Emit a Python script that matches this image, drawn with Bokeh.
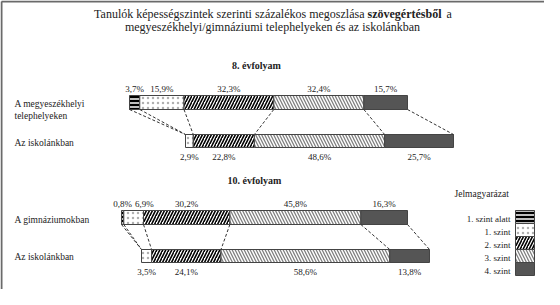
from bokeh.plotting import figure
from bokeh.models import Range1d
from bokeh.core.properties import value
from bokeh.embed import file_html
from bokeh.resources import INLINE

# ---------------- data ----------------
levels = ["1. szint alatt", "1. szint", "2. szint", "3. szint", "4. szint"]
group_titles = ["8. évfolyam", "10. évfolyam"]
row_labels = [["A megyeszékhelyi", "telephelyeken"], ["Az iskolánkban"],
              ["A gimnáziumokban"], ["Az iskolánkban"]]
megye_8 = [3.7, 15.9, 32.3, 32.4, 15.7]
iskola_8 = [0.0, 2.9, 22.8, 48.6, 25.7]
gimn_10 = [0.8, 6.9, 30.2, 45.8, 16.3]
iskola_10 = [0.0, 3.5, 24.1, 58.6, 13.8]
title_1 = "Tanulók képességszintek szerinti százalékos megoszlása"
title_bold = "szövegértésből"
title_1b = "a"
title_2 = "megyeszékhelyi/gimnáziumi telephelyeken és az iskolánkban"
legend_title = "Jelmagyarázat"

# ---------------- layout (coordinates = page pixels) ----------------
FONT = value("Liberation Serif")
TXT = "#222222"
W, H = 544, 289
p = figure(width=W, height=H, output_backend="svg", toolbar_location=None,
           x_range=Range1d(8, 8 + W), y_range=Range1d(8 + H, 8),
           min_border=0, outline_line_color=None)
p.axis.visible = False
p.grid.visible = False
p.background_fill_color = "white"
p.border_fill_color = "white"

styles = [
    dict(fill_color="black", hatch_pattern="-", hatch_color="white", hatch_scale=4, hatch_weight=1.5),
    dict(fill_color="white", hatch_pattern=".", hatch_color="#b0b0b0", hatch_scale=5, hatch_weight=1),
    dict(fill_color="white", hatch_pattern="/", hatch_color="black", hatch_scale=6, hatch_weight=1.6),
    dict(fill_color="white", hatch_pattern="\\", hatch_color="#808080", hatch_scale=6, hatch_weight=1.3),
    dict(fill_color="#555555"),
]

bars = [
    dict(vals=megye_8, left=137, length=278, top=103, bottom=117, side="above"),
    dict(vals=iskola_8, left=193, length=268, top=142, bottom=155, side="below"),
    dict(vals=gimn_10, left=129, length=286, top=218, bottom=232, side="above"),
    dict(vals=iskola_10, left=149, length=288, top=257, bottom=270, side="below"),
]

def bounds(b):
    xs = [b["left"]]
    c = 0.0
    for v in b["vals"]:
        c += v
        xs.append(b["left"] + c / 100.0 * b["length"])
    return xs

# frame (top and left edges)
p.line(x=[9, 8 + W], y=[9, 9], line_color="#6a6a6a", line_width=2)
p.line(x=[9, 9], y=[9, 8 + H], line_color="#6a6a6a", line_width=2)

# bars
for i, st in enumerate(styles):
    L, R, T, B = [], [], [], []
    for b in bars:
        xs = bounds(b)
        if b["vals"][i] > 0:
            L.append(xs[i]); R.append(xs[i + 1]); T.append(b["top"]); B.append(b["bottom"])
    p.quad(left=L, right=R, top=T, bottom=B, line_color="#444444", line_width=1, **st)

# connector lines
for a, c in [(0, 1), (2, 3)]:
    xa = bounds(bars[a])
    xc = bounds(bars[c])
    p.segment(x0=xa, y0=[bars[a]["bottom"]] * len(xa), x1=xc, y1=[bars[c]["top"]] * len(xc),
              line_color="#333333", line_width=1, line_dash="3 2")

# percentage labels
FS = 9
def est_w(s):
    w = 0
    for ch in s:
        w += 0.5 if ch.isdigit() else (0.83 if ch == "%" else 0.25)
    return w * FS

for b in bars:
    xs = bounds(b)
    lx, ly, lt = [], [], []
    prev_right = -1e9
    for i, v in enumerate(b["vals"]):
        if v <= 0:
            continue
        s = f"{v:.1f}".replace(".", ",") + "%"
        w = est_w(s)
        cx = (xs[i] + xs[i + 1]) / 2
        if cx - w / 2 < prev_right + 3:
            cx = prev_right + 3 + w / 2
        prev_right = cx + w / 2
        lx.append(cx); lt.append(s)
        ly.append(b["top"] - 7 if b["side"] == "above" else b["bottom"] + 9)
    p.text(x=lx, y=ly, text=lt, text_font=FONT, text_font_size=f"{FS}px", text_color=TXT,
           text_align="center", text_baseline="middle")

# row labels
row_y = [[111, 123], [150], [227], [264]]
for labs, ys in zip(row_labels, row_y):
    p.text(x=[22] * len(labs), y=ys, text=labs, text_font=FONT, text_font_size="9.5px",
           text_color=TXT, text_align="left", text_baseline="middle")

# titles
TFS = 12
split_x = 372
p.text(x=[split_x], y=[21], text=[title_1], text_font=FONT, text_font_size=f"{TFS}px",
       text_color=TXT, text_align="right", text_baseline="middle")
p.text(x=[split_x + 3], y=[21], text=[title_bold], text_font=FONT, text_font_size=f"{TFS}px",
       text_font_style="bold", text_color=TXT, text_align="left", text_baseline="middle")
p.text(x=[split_x + 82], y=[21], text=[title_1b], text_font=FONT, text_font_size=f"{TFS}px",
       text_color=TXT, text_align="left", text_baseline="middle")
p.text(x=[280], y=[34], text=[title_2], text_font=FONT, text_font_size=f"{TFS}px",
       text_color=TXT, text_align="center", text_baseline="middle")
p.text(x=[264, 262], y=[73, 188], text=group_titles, text_font=FONT, text_font_size="10px",
       text_font_style="bold", text_color=TXT, text_align="center", text_baseline="middle")

# legend
p.text(x=[462], y=[201], text=[legend_title], text_font=FONT, text_font_size="9.5px",
       text_color=TXT, text_align="left", text_baseline="middle")
sw_top, sw_h = 218, 13
for i, st in enumerate(styles):
    t = sw_top + i * sw_h
    p.quad(left=[523], right=[542], top=[t], bottom=[t + sw_h], line_color="#444444",
           line_width=1, **st)
p.text(x=[518] * len(levels), y=[sw_top + sw_h * (i + 0.5) + 2 for i in range(len(levels))],
       text=levels, text_font=FONT, text_font_size="9px", text_color=TXT,
       text_align="right", text_baseline="middle")

open("out.html", "w").write(file_html(p, INLINE))
